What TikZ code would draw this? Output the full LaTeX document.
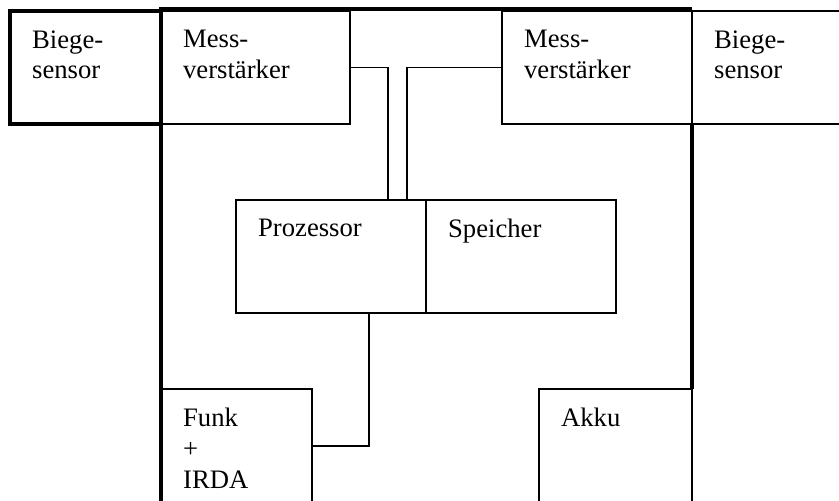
\documentclass[tikz,border=0pt]{standalone}
\usepackage{fontspec}
\setmainfont{Liberation Serif}
\usetikzlibrary{positioning}

\begin{document}
\begin{tikzpicture}[
  x=0.75pt,y=-0.75pt,line width=1.2pt,
  box/.style={draw,anchor=north west,inner sep=0pt,outer sep=0pt},
  sz/.style 2 args={minimum width=#1*0.75pt,minimum height=#2*0.75pt},
  lbl/.style={anchor=north west,inner sep=0pt,align=left,xshift=16pt,yshift=-14pt,
              font={\fontsize{20}{23}\selectfont}},
  frame/.style={line width=3.4pt},
]
\useasboundingbox (0,0) rectangle (839,500);
\clip (0,0) rectangle (839,500);
% ---- top row: sensors and amplifiers -----------------------------------
\node[box,sz={151}{113},line width=2.8pt,label={[lbl]north west:{Biege-\\sensor}}] (BL) at (10,11) {};
\node[box,sz={189}{113},right=0pt of BL,label={[lbl]north west:{Mess-\\verstärker}}] (ML) {};
\node[box,sz={150}{113},line width=2.2pt,label={[lbl]north west:{Biege-\\sensor}}] (BR) at (692,11) {};
\node[box,sz={190}{113},label={[lbl]north west:{Mess-\\verstärker}}] (MR) at (502,11) {};

% ---- middle: processor and memory ---------------------------------------
\node[box,sz={190}{113},label={[lbl]north west:Prozessor}] (PZ) at (236,200) {};
\node[box,sz={190}{113},right=0pt of PZ,label={[lbl]north west:Speicher}] (SP) {};

% ---- bottom: radio and battery ------------------------------------------
\node[box,sz={151}{114},label={[lbl]north west:{Funk\\+\\IRDA}}] (FK) at (161,389) {};
\node[box,sz={153}{114},label={[lbl]north west:Akku}] (AK) at (539,389) {};

% housing
\draw[frame] (FK.south west) -- ([yshift=1.5pt]ML.north west) -- ([yshift=1.5pt]BR.north west);
\draw[frame] (BR.south west) -- (AK.north east);

% wiring
\coordinate (pin1) at ([xshift=-28.5pt]PZ.north east);
\coordinate (pin2) at ([xshift=-14.25pt]PZ.north east);
\coordinate (pout) at ([xshift=28.5pt]PZ.south);
\draw (ML.east) -| (pin1);
\draw (MR.west) -| (pin2);
\draw (pout) |- (FK.east);
\end{tikzpicture}
\end{document}
